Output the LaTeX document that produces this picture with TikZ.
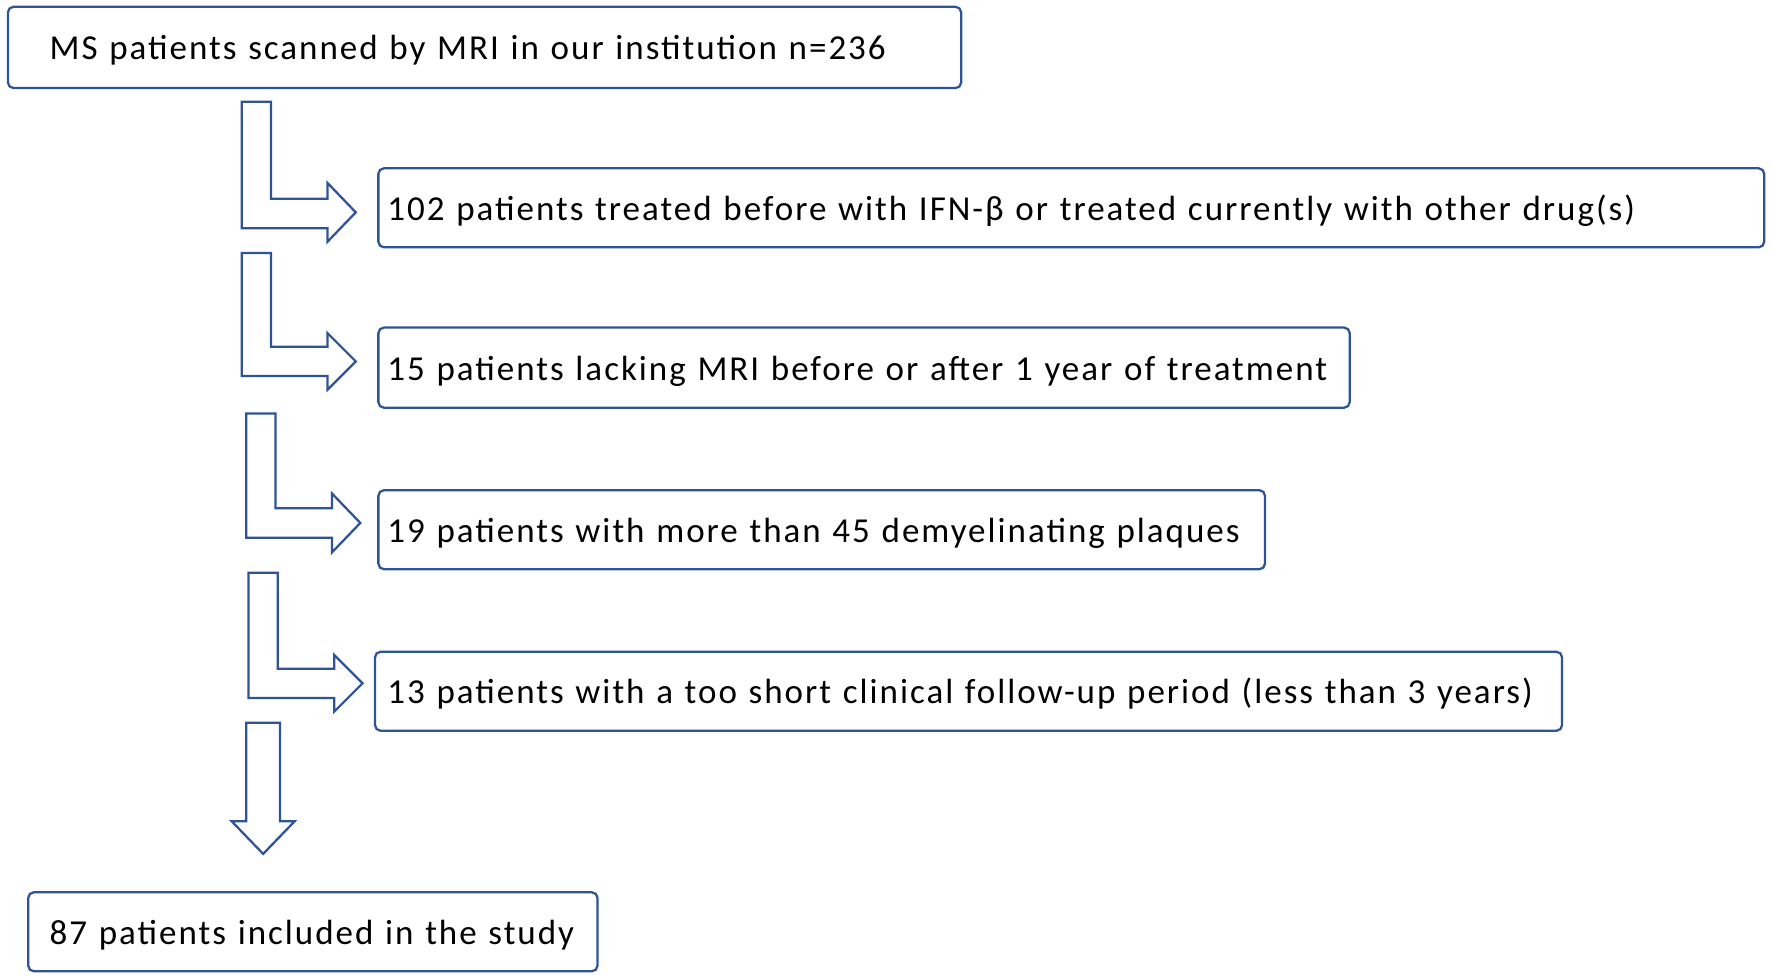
\documentclass[tikz,border=0pt]{standalone}
\usepackage{fontspec}
\setmainfont[LetterSpace=5.7]{Carlito}
\definecolor{lineblue}{RGB}{47,84,150}
\tikzset{
  box/.style={draw=lineblue, line width=2pt, rounded corners=5pt, anchor=west,
    outer sep=0pt, align=left, font=\fontsize{31}{36}\selectfont, text=black,
    minimum height=70pt, text depth=3pt, text height=25pt},
  fatarrow/.style={draw=lineblue, line width=2pt, fill=white, line join=miter},
}
\begin{document}
\begin{tikzpicture}[x=1pt,y=-1pt]
\useasboundingbox[fill=white] (0,0) rectangle (1568,867);
% boxes
\node[box, minimum width=844pt, minimum height=72pt, inner xsep=37pt, text width=770pt] (b1) at (7,42) {MS patients scanned by MRI in our institution n=236};
\node[box, minimum width=1227pt, inner xsep=8pt, text width=1211pt] (b2) at (335,184) {102 patients treated before with IFN-β or treated currently with other drug(s)};
\node[box, minimum width=860pt, minimum height=71pt, inner xsep=8pt, text width=844pt] (b3) at (335,325.5) {15 patients lacking MRI before or after 1 year of treatment};
\node[box, minimum width=785pt, inner xsep=8pt, text width=769pt] (b4) at (335,469) {19 patients with more than 45 demyelinating plaques};
\node[box, minimum width=1051pt, inner xsep=11pt, text width=1029pt] (b5) at (332,612) {13 patients with a too short clinical follow-up period (less than 3 years)};
\node[box, minimum width=504pt, inner xsep=19pt, text width=466pt] (b6) at (25,825) {87 patients included in the study};
% elbow arrows
\draw[fatarrow] (214,90) -- (240,90) -- (240,176) -- (290,176) -- (290,162) -- (315,188) -- (290,214) -- (290,202) -- (214,202) -- cycle;
\draw[fatarrow] (214,224) -- (240,224) -- (240,307) -- (290,307) -- (290,295) -- (315,320) -- (290,345) -- (290,333) -- (214,333) -- cycle;
\draw[fatarrow] (218,366) -- (244,366) -- (244,450) -- (294,450) -- (294,437) -- (319,463) -- (294,489) -- (294,476) -- (218,476) -- cycle;
\draw[fatarrow] (220,507) -- (246,507) -- (246,592) -- (296,592) -- (296,580) -- (321,605) -- (296,630) -- (296,618) -- (220,618) -- cycle;
% down arrow
\draw[fatarrow] (218,640) -- (248,640) -- (248,727) -- (261,727) -- (233,756) -- (205,727) -- (218,727) -- cycle;
\end{tikzpicture}
\end{document}
